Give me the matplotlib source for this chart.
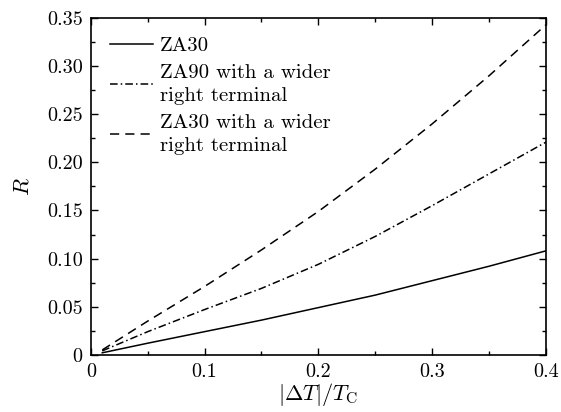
import matplotlib
matplotlib.use('Agg')
import matplotlib.pyplot as plt
from matplotlib.ticker import MultipleLocator

plt.rcParams['font.family'] = 'cmr10'
plt.rcParams['mathtext.fontset'] = 'cm'
plt.rcParams['axes.formatter.use_mathtext'] = True
plt.rcParams['font.size'] = 14.5

# data
dT = [0.01, 0.05, 0.1, 0.15, 0.2, 0.25, 0.3, 0.35, 0.4]
za30 = [0.002, 0.012, 0.024, 0.036, 0.049, 0.062, 0.077, 0.092, 0.108]
za90_wide = [0.004, 0.024, 0.047, 0.069, 0.094, 0.123, 0.155, 0.188, 0.221]
za30_wide = [0.005, 0.035, 0.071, 0.109, 0.149, 0.193, 0.240, 0.290, 0.343]

xticks = [0, 0.1, 0.2, 0.3, 0.4]
xlabels = ['0', '0.1', '0.2', '0.3', '0.4']
yticks = [0, 0.05, 0.10, 0.15, 0.20, 0.25, 0.30, 0.35]
ylabels = ['0', '0.05', '0.10', '0.15', '0.20', '0.25', '0.30', '0.35']

fig = plt.figure(figsize=(5.61, 4.12), dpi=100)
ax = fig.add_axes([0.162, 0.139, 0.811, 0.817])

ax.plot(dT, za30, color='black', lw=1.1, ls='-', label='ZA30')
ax.plot(dT, za90_wide, color='black', lw=1.1, ls=(0, (5, 2, 1, 2)),
        label='ZA90 with a wider\nright terminal')
ax.plot(dT, za30_wide, color='black', lw=1.1, ls=(0, (6, 4)),
        label='ZA30 with a wider\nright terminal')

ax.set_xlim(0, 0.4)
ax.set_ylim(0, 0.35)
ax.set_xticks(xticks)
ax.set_xticklabels(xlabels)
ax.set_yticks(yticks)
ax.set_yticklabels(ylabels)
ax.xaxis.set_minor_locator(MultipleLocator(0.05))
ax.yaxis.set_minor_locator(MultipleLocator(0.025))
ax.tick_params(which='both', direction='in', top=True, right=True, width=1.0)
ax.tick_params(which='major', length=5, pad=6)
ax.tick_params(which='minor', length=3)
for s in ax.spines.values():
    s.set_linewidth(1.2)

ax.set_xlabel(r'$|\Delta T|/T_{\rm C}$', fontsize=16, labelpad=0)
ax.set_ylabel(r'$R$', fontsize=16, labelpad=10)

leg = ax.legend(loc='upper left', frameon=False, handlelength=2.1,
                handletextpad=0.33, labelspacing=0.4, borderaxespad=0.5,
                fontsize=15)
for t in leg.get_texts():
    t.set_linespacing(1.4)

fig.savefig('out.png', dpi=100)
